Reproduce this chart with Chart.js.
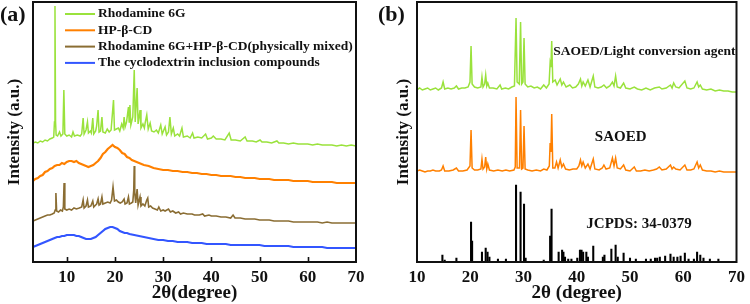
<!DOCTYPE html>
<html><head><meta charset="utf-8">
<script src="https://cdn.jsdelivr.net/npm/chart.js@4/dist/chart.umd.min.js"></script>
<style>
html,body{margin:0;padding:0;background:#fff;}
#wrap{position:relative;width:750px;height:304px;overflow:hidden;}
.pane{position:absolute;top:0;width:375px;height:304px;}
#pa{left:0;} #pb{left:375px;}
</style></head><body>
<div id="wrap">
<div class="pane" id="pa"><canvas id="ca" width="375" height="304"></canvas></div>
<div class="pane" id="pb"><canvas id="cb" width="375" height="304"></canvas></div>
</div>
<script>
const FONT = '"Liberation Serif", "Times New Roman", serif';
const INK = '#111';

// ---------- panel (a) ----------
const xTicksA = [10,20,30,40,50,60,70];
const innerTicksA = [10,20,30,40,50,60];
const seriesNamesA = ['Rhodamine 6G','HP-β-CD','Rhodamine 6G+HP-β-CD(physically mixed)','The cyclodextrin inclusion compounds'];
const colorsA = ['#9ae23c','#ff8000','#8a6d33','#3356ff'];

const rhodamine6G = [[3,119],[3.5,120],[4,119],[4.5,121],[5,120],[5.5,122],[6,121],[6.5,123],[7,124],[7.3,125],[7.45,140],[7.56,256],[7.68,140],[7.8,127],[8.1,126],[8.5,130],[8.8,126],[9.2,128],[9.4,172],[9.6,128],[10,126],[10.5,127],[11,125],[11.3,130],[11.6,126],[12.2,127],[12.8,126],[13.1,128],[13.4,144],[13.6,128],[14.0,132],[14.3,140],[14.5,129],[14.9,131],[15.1,129],[15.4,144],[15.6,128],[16.0,131],[16.2,136],[16.5,152],[16.7,130],[17.0,131],[17.3,145],[17.5,130],[18.0,129],[18.4,133],[18.8,130],[19.2,132],[19.7,162],[19.9,132],[20.3,133],[20.7,134],[21.0,131],[21.4,138],[21.7,134],[21.9,145],[22.1,135],[22.4,140],[22.8,155],[22.95,140],[23.1,157],[23.3,137],[23.7,145],[24.0,192],[24.2,140],[24.6,174],[24.8,138],[25.2,152],[25.4,134],[25.8,138],[26.1,134],[26.3,140],[26.6,147],[26.9,133],[27.3,139],[27.6,131],[28.1,130],[28.6,132],[29.0,129],[29.5,137],[29.8,128],[30.4,135],[30.7,127],[31.1,130],[31.4,145],[31.7,128],[32.1,134],[32.4,126],[33.0,128],[33.4,126],[33.9,134],[34.2,125],[35.0,126],[35.6,124],[36.1,129],[36.4,124],[37.2,125],[38.0,124],[38.8,128],[39.2,123],[40.0,124],[40.4,126],[41.0,123],[42.0,123],[42.8,122],[43.7,129],[44.1,122],[45.0,122],[46.0,121],[47.0,125],[47.4,121],[48.5,121],[49.3,120],[50.1,122],[50.5,120],[51.5,120],[52.5,119],[53.6,121],[54.0,119],[55.0,119],[56.0,118],[57.0,119],[58.0,118],[59.0,118],[60.0,118],[61.0,117],[62.0,118],[63.0,117],[64.0,117],[65.0,117],[66.0,116],[67.0,117],[68.0,116],[69.0,117],[70.0,116]];

const hpBetaCD = [[3,81],[3.5,83],[4,84],[4.5,86],[5,87],[5.5,90],[6,91],[6.5,93],[7,94],[7.5,96],[8,97],[8.5,97],[9,99],[9.5,98],[10,100],[10.5,101],[11,101],[11.5,100],[12,101],[12.5,99],[13,98],[13.5,97],[14,96],[14.5,95],[15,96],[15.5,97],[16,99],[16.5,101],[17,104],[17.5,108],[18,110],[18.5,113],[19,115],[19.5,117],[20,115],[20.5,114],[21,112],[21.5,109],[22,108],[22.5,105],[23,104],[23.5,102],[24,101],[25,99],[26,97],[27,96],[28,94],[29,93],[30,92],[31,92],[32,91],[33,91],[34,90],[35,90],[36,89],[37,89],[38,88],[39,88],[40,87],[41,87],[42,86],[43,86],[44,86],[45,85],[46,85],[47,84],[48,84],[49,84],[50,83],[51,83],[52,83],[53,82],[54,82],[55,82],[56,82],[57,81],[58,81],[59,81],[60,81],[61,80],[62,80],[63,80],[64,80],[65,80],[66,79],[67,79],[68,79],[69,79],[70,79]];

const physicallyMixed = [[3,41],[3.5,42],[4,43],[4.5,44],[5,45],[5.5,46],[6,47],[6.5,47],[7,48],[7.4,49],[7.6,52],[7.75,69],[7.9,51],[8.3,50],[8.7,52],[9.1,51],[9.3,55],[9.45,79],[9.6,53],[10,52],[10.5,53],[11,52],[11.5,54],[12,53],[12.6,54],[13.1,55],[13.4,62],[13.6,54],[14.0,56],[14.3,62],[14.5,55],[15.0,56],[15.4,61],[15.6,55],[16.0,57],[16.2,58],[16.5,63],[16.7,57],[17.0,58],[17.3,65],[17.5,58],[18.0,59],[18.5,60],[19.0,59],[19.3,62],[19.6,75],[19.9,61],[20.3,62],[20.7,60],[21.1,59],[21.5,60],[21.9,63],[22.1,58],[22.5,59],[22.8,65],[23.0,58],[23.4,59],[23.7,60],[23.9,72],[24.0,96],[24.1,70],[24.3,59],[24.6,73],[24.8,57],[25.2,65],[25.4,56],[25.8,58],[26.2,56],[26.6,62],[26.8,64],[27.0,55],[27.4,56],[27.8,54],[28.3,53],[28.8,52],[29.1,55],[29.5,51],[30.0,52],[30.4,51],[31.1,53],[31.5,50],[32.0,51],[32.6,49],[33.2,50],[33.6,48],[34.2,49],[35.0,48],[36.0,48],[36.5,47],[37.5,47],[38.2,48],[38.6,46],[39.5,47],[40.0,46],[41.0,46],[42.0,45],[43.0,45],[44.0,44],[44.5,47],[44.9,44],[46.0,44],[47.0,43],[48.0,43],[49.0,43],[50.0,42],[51.0,42],[52.0,42],[53.0,41],[54.0,41],[55.0,41],[56.0,41],[57.0,40],[58.0,40],[59.0,40],[60.0,40],[61.0,40],[62.0,40],[63.0,39],[64.0,40],[65.0,39],[66.0,39],[67.0,39],[68.0,39],[69.0,39],[70.0,39]];

const inclusionCompound = [[3,15],[3.5,16],[4,17],[4.5,18],[5,19],[5.5,20],[6,21],[6.5,22],[7,23],[7.5,24],[8,25],[8.5,25],[9,26],[9.5,26],[10,27],[10.5,27],[11,27],[11.5,27],[12,26],[12.5,26],[13,25],[13.5,24],[14,23],[14.5,23],[15,23],[15.5,24],[16,25],[16.5,27],[17,29],[17.5,31],[18,33],[18.5,34],[19,35],[19.5,35],[20,34],[20.5,33],[21,31],[21.5,30],[22,29],[22.5,29],[23,28],[24,27],[25,26],[26,25],[27,24],[28,23],[29,22],[30,22],[31,21],[32,21],[33,20],[34,20],[35,20],[36,19],[37,19],[38,19],[39,18],[40,18],[41,18],[42,18],[43,18],[44,17],[45,17],[46,17],[47,17],[48,17],[49,17],[50,17],[51,16],[52,16],[53,16],[54,16],[55,16],[56,16],[57,15],[58,15],[59,15],[60,15],[61,15],[62,15],[63,15],[64,14],[65,14],[66,14],[67,14],[68,14],[69,14],[70,14]];

// ---------- panel (b) ----------
const xTicksB = [10,20,30,40,50,60,70];
const labelsB = ['SAOED/Light conversion agent','SAOED','JCPDS: 34-0379'];
const colorsB = ['#9ae23c','#ff8000','#000000'];

const saoedLight = [[10,172],[10.5,174],[11,172],[11.5,173],[12,174],[12.5,172],[13,173],[13.5,174],[14,172],[14.6,174],[14.9,180],[15.2,173],[15.8,174],[16.4,173],[17.0,174],[17.4,176],[17.8,173],[18.4,174],[19.0,174],[19.6,175],[19.95,180],[20.15,216],[20.35,178],[20.8,175],[21.4,174],[22.0,175],[22.2,185],[22.4,175],[22.7,178],[22.9,187],[23.1,176],[23.3,179],[23.6,174],[24.3,174],[25.0,173],[25.6,177],[25.9,173],[26.6,174],[27.2,173],[27.8,175],[28.3,176],[28.6,244],[28.8,180],[29.2,178],[29.45,240],[29.65,178],[29.9,180],[30.1,224],[30.3,178],[30.8,175],[31.4,176],[32.0,174],[32.6,175],[33.2,173],[33.8,177],[34.3,174],[34.8,178],[35.0,199],[35.15,195],[35.3,221],[35.5,180],[35.95,182],[36.3,177],[36.9,183],[37.2,177],[37.5,180],[38.0,175],[38.7,177],[39.2,174],[39.8,175],[40.3,178],[40.7,183],[40.95,176],[41.2,180],[41.6,176],[42.1,182],[42.5,175],[43.1,186],[43.4,175],[44.0,174],[44.6,175],[45.1,177],[45.6,174],[46.2,176],[46.7,180],[47.0,176],[47.3,186],[47.6,175],[48.2,174],[48.8,179],[49.2,174],[50.0,173],[50.8,175],[51.4,173],[52.2,172],[53.0,174],[53.8,172],[54.6,174],[55.5,175],[56.0,173],[56.8,174],[57.6,177],[57.9,174],[58.2,179],[58.6,175],[59.2,174],[60.3,181],[60.7,174],[61.4,173],[62.0,174],[62.6,180],[62.9,175],[63.2,177],[63.6,173],[64.4,172],[65.2,173],[66.0,171],[66.8,172],[67.6,171],[68.4,171],[69.2,170],[70,170]];

const saoed = [[10,91],[10.5,92],[11,91],[11.5,90],[12,91],[12.5,91],[13,92],[13.5,91],[14.2,91],[14.6,92],[14.9,96],[15.2,91],[16.0,91],[16.8,92],[17.4,94],[17.8,91],[18.6,91],[19.4,92],[19.95,96],[20.15,132],[20.35,94],[20.8,92],[21.4,92],[22.0,93],[22.2,103],[22.4,93],[22.7,95],[22.9,105],[23.1,93],[23.3,98],[23.6,92],[24.4,91],[25.2,92],[26.0,91],[26.7,92],[27.4,91],[28.2,92],[28.45,95],[28.6,165],[28.8,94],[29.25,94],[29.45,152],[29.65,93],[29.9,94],[30.1,136],[30.3,93],[30.8,92],[31.6,91],[32.4,92],[33.2,91],[33.8,93],[34.4,92],[34.85,96],[35.0,119],[35.15,110],[35.3,148],[35.5,94],[35.9,94],[36.2,100],[36.5,94],[36.9,102],[37.2,95],[37.5,98],[37.9,93],[38.6,92],[39.3,93],[40.0,93],[40.4,96],[40.7,102],[40.95,96],[41.2,100],[41.6,94],[42.1,98],[42.5,93],[43.1,103],[43.4,93],[44.2,92],[44.8,94],[45.1,97],[45.5,93],[46.2,94],[46.7,104],[47.0,96],[47.3,104],[47.6,94],[48.2,93],[48.8,97],[49.2,92],[50.0,91],[50.8,95],[51.2,91],[52.0,91],[52.8,92],[53.6,91],[54.4,92],[55.0,93],[55.5,95],[56.0,92],[56.8,93],[57.6,97],[57.9,93],[58.2,95],[58.6,93],[59.4,92],[60.3,97],[60.7,92],[61.4,92],[62.0,93],[62.6,100],[62.9,94],[63.2,97],[63.6,92],[64.4,91],[65.2,91],[66.0,90],[66.8,91],[67.6,90],[68.4,90],[69.2,90],[70,90]];

const jcpdsAngles = [14.77,15.2,17.4,20.15,20.35,22.2,22.9,23.25,23.6,25.2,26.7,28.6,29.45,30.1,30.4,33.8,35.0,35.27,36.6,37.25,37.5,37.8,38.4,39.0,40.1,40.6,40.9,41.2,41.8,42.1,43.1,44.9,45.2,46.5,47.3,47.7,48.8,50.0,51.1,53.0,53.9,54.7,55.1,55.6,56.6,57.6,58.2,58.9,59.5,60.3,61.0,62.0,62.6,63.2,63.8,65.0,66.6];
const jcpdsIntensity = [7,2,4,40,21,10,14,10,5,3,3,77,70,58,4,2,26,53,10,12,10,5,3,3,4,12,12,10,10,5,16,5,7,13,17,5,9,4,3,3,3,4,4,5,6,8,5,5,6,9,3,3,10,7,4,3,3];

// ---------- helpers ----------
const pts = arr => arr.map(([x, y]) => ({x, y}));
const lineDs = (label, data, color, w) => ({label, data: pts(data), borderColor: color, borderWidth: w, pointRadius: 0, tension: 0, fill: false});

function decoPlugin(cfg) {
  return {
    id: 'deco',
    afterDraw(chart) {
      const {ctx, chartArea: a, scales: {x, y}} = chart;
      ctx.save();
      if (cfg.innerTicks) {
        ctx.strokeStyle = INK; ctx.lineWidth = 1.6;
        cfg.innerTicks.forEach(v => {
          const px = Math.round(x.getPixelForValue(v)) + 0.5;
          ctx.beginPath(); ctx.moveTo(px, a.bottom); ctx.lineTo(px, a.bottom - 5); ctx.stroke();
        });
      }
      ctx.strokeStyle = INK; ctx.lineWidth = 2;
      ctx.strokeRect(a.left, a.top, a.right - a.left, a.bottom - a.top);
      ctx.fillStyle = INK; ctx.textAlign = 'left'; ctx.textBaseline = 'middle';
      ctx.font = 'bold 22px ' + FONT;
      ctx.fillText(cfg.panel, cfg.panelX, cfg.panelY);
      if (cfg.legend) {
        ctx.font = 'bold 13.5px ' + FONT;
        cfg.legend.names.forEach((n, i) => {
          const yy = a.top + 12 + i * 16.3;
          ctx.strokeStyle = cfg.legend.colors[i]; ctx.lineWidth = 2;
          ctx.beginPath(); ctx.moveTo(a.left + 32, yy); ctx.lineTo(a.left + 62, yy); ctx.stroke();
          ctx.fillStyle = INK; ctx.fillText(n, a.left + 65, yy);
        });
      }
      if (cfg.notes) {
        cfg.notes.forEach(nt => {
          ctx.font = 'bold ' + nt.size + 'px ' + FONT;
          ctx.fillStyle = INK;
          ctx.fillText(nt.text, x.getPixelForValue(nt.at[0]), y.getPixelForValue(nt.at[1]));
        });
      }
      ctx.restore();
    }
  };
}

function makeOptions(o) {
  return {
    responsive: false, animation: false, devicePixelRatio: 1,
    layout: {padding: {top: 2, right: o.rightPad, left: 0, bottom: 0}},
    plugins: {legend: {display: false}, tooltip: {enabled: false}},
    scales: {
      x: {
        type: 'linear', min: o.xmin, max: 70, offset: false,
        afterBuildTicks: s => { s.ticks = o.ticks.map(v => ({value: v})); },
        afterFit: s => { s.height = 42; },
        grid: {display: false, drawTicks: false}, border: {display: false},
        ticks: {autoSkip: false, maxRotation: 0, color: INK, padding: 5, font: {family: FONT, weight: 'bold', size: 17}},
        title: {display: true, text: o.xTitle, color: INK, padding: {top: 0, bottom: 0}, font: {family: FONT, weight: 'bold', size: 19}}
      },
      y: {
        min: 0, max: 260,
        afterFit: s => { s.width = o.yWidth; },
        grid: {display: false, drawTicks: false}, border: {display: false},
        ticks: {display: false},
        title: {display: true, text: 'Intensity (a.u.)', color: INK, padding: {top: o.yTitlePad, bottom: 0}, font: {family: FONT, weight: 'bold', size: 17}}
      }
    }
  };
}

new Chart(document.getElementById('ca'), {
  type: 'line',
  data: {datasets: [
    lineDs(seriesNamesA[0], rhodamine6G, colorsA[0], 1.5),
    lineDs(seriesNamesA[1], hpBetaCD, colorsA[1], 2.2),
    lineDs(seriesNamesA[2], physicallyMixed, colorsA[2], 1.6),
    lineDs(seriesNamesA[3], inclusionCompound, colorsA[3], 2.2)
  ]},
  options: makeOptions({xmin: 3, ticks: xTicksA, rightPad: 19, yWidth: 33, yTitlePad: 4, xTitle: '2θ(degree)'}),
  plugins: [decoPlugin({panel: '(a)', panelX: 0, panelY: 15, innerTicks: innerTicksA, legend: {names: seriesNamesA, colors: colorsA}})]
});

new Chart(document.getElementById('cb'), {
  type: 'line',
  data: {datasets: [
    lineDs(labelsB[0], saoedLight, colorsB[0], 1.5),
    lineDs(labelsB[1], saoed, colorsB[1], 1.5),
    {type: 'bar', label: labelsB[2], data: jcpdsAngles.map((a, i) => ({x: a, y: jcpdsIntensity[i]})), backgroundColor: colorsB[2], barThickness: 1.4, grouped: false}
  ]},
  options: makeOptions({xmin: 10, ticks: xTicksB, rightPad: 10, yWidth: 42, yTitlePad: 18, xTitle: '2θ (degree)'}),
  plugins: [decoPlugin({panel: '(b)', panelX: 3, panelY: 15, notes: [
    {text: labelsB[0], at: [35.6, 210], size: 13.5},
    {text: labelsB[1], at: [43.4, 125], size: 15},
    {text: labelsB[2], at: [41.8, 38], size: 15}
  ]})]
});
</script>
</body></html>
